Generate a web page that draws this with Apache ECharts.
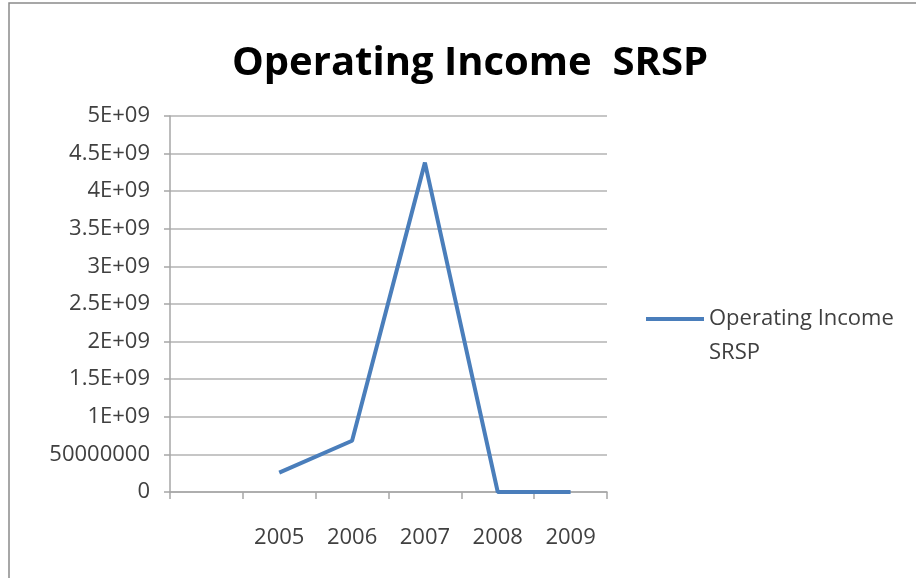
<!DOCTYPE html>
<html>
<head>
<meta charset="utf-8">
<script src="https://cdn.jsdelivr.net/npm/echarts@6/dist/echarts.min.js"></script>
<style>
  html, body { margin: 0; padding: 0; background: #fff; }
  #chart { width: 916px; height: 578px; }
</style>
</head>
<body>
<div id="chart"></div>
<script>
// values
var years = ['', '2005', '2006', '2007', '2008', '2009'];
var income = [null, 2.57e8, 6.82e8, 4.38e9, 0, 0];
var yTickLabels = ['0', '50000000', '1E+09', '1.5E+09', '2E+09', '2.5E+09',
  '3E+09', '3.5E+09', '4E+09', '4.5E+09', '5E+09'];

var font = '"Open Sans", sans-serif';
var myChart = echarts.init(document.getElementById('chart'));

var option = {
  backgroundColor: '#fff',
  animation: false,
  title: {
    text: 'Operating Income  SRSP',
    left: 465,
    textAlign: 'center',
    top: 39,
    textStyle: { fontFamily: font, fontSize: 40, fontWeight: 'bold', color: '#000' }
  },
  graphic: [{
    type: 'rect',
    shape: { x: 9, y: 3, width: 1000, height: 700 },
    style: { fill: null, stroke: '#8a8a8a', lineWidth: 1.5 },
    silent: true
  }],
  legend: {
    left: 641,
    top: 263,
    itemWidth: 58,
    itemHeight: 4,
    data: [{ name: 'Operating Income SRSP', icon: 'rect' }],
    textStyle: { fontFamily: font, fontSize: 22, color: '#404040', lineHeight: 34 },
    formatter: function () { return '\nOperating Income\nSRSP'; }
  },
  grid: { left: 170, right: 309, top: 116, bottom: 86, containLabel: false },
  xAxis: {
    type: 'category',
    data: years,
    boundaryGap: true,
    axisLine: { lineStyle: { color: '#a6a6a6', width: 1.5 } },
    axisTick: { show: true, length: 7, alignWithLabel: false, lineStyle: { color: '#a6a6a6', width: 1.5 } },
    axisLabel: { margin: 35, fontFamily: font, fontSize: 22, color: '#404040', interval: 0 }
  },
  yAxis: {
    type: 'value',
    min: 0,
    max: 5e9,
    interval: 5e8,
    axisLine: { show: true, lineStyle: { color: '#a6a6a6', width: 1.5 } },
    axisTick: { show: true, length: 6, lineStyle: { color: '#a6a6a6', width: 1.5 } },
    splitLine: { lineStyle: { color: '#b3b3b3', width: 1.5 } },
    axisLabel: {
      margin: 20, fontFamily: font, fontSize: 22, color: '#404040',
      formatter: function (v) { return yTickLabels[Math.round(v / 5e8)]; }
    }
  },
  series: [{
    name: 'Operating Income SRSP',
    type: 'line',
    data: income,
    symbol: 'none',
    lineStyle: { color: '#4a7ebb', width: 4 },
    itemStyle: { color: '#4a7ebb' }
  }]
};

myChart.setOption(option);
</script>
</body>
</html>
